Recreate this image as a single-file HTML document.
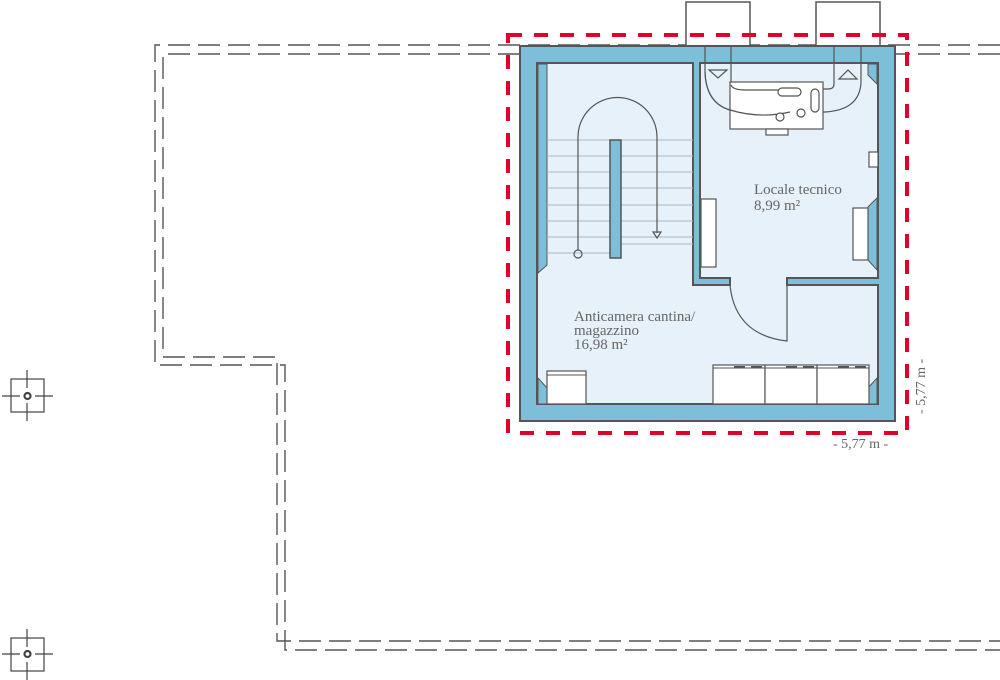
<!DOCTYPE html>
<html><head><meta charset="utf-8"><style>
html,body{margin:0;padding:0;background:#fff;width:1000px;height:680px;overflow:hidden}
svg text{font-family:"Liberation Serif",serif;fill:#666}
</style></head><body>
<svg width="1000" height="680" viewBox="0 0 1000 680" xmlns="http://www.w3.org/2000/svg">
<g fill="none" stroke="#555" stroke-width="1.4" stroke-dasharray="22,8">
<path d="M1000 45 H155 V365 H285 V650 H1000"/>
<path d="M1000 54 H163 V357 H277 V641 H1000"/>
</g>
<g stroke="#444" stroke-width="1.2" fill="none">
<rect x="11" y="379" width="33" height="33"/><path d="M27 370V388M27 403V421M2 396H20M35 396H53"/>
<circle cx="27.5" cy="396" r="3" stroke-width="2.2"/>
<rect x="11" y="638" width="33" height="33"/><path d="M27 629V647M27 662V680M2 654H20M35 654H53"/>
<circle cx="27.5" cy="654" r="3" stroke-width="2.2"/>
</g>
<g fill="#fff" stroke="#555" stroke-width="1.5">
<rect x="686" y="2" width="64" height="45"/><rect x="816" y="2" width="64" height="45"/>
</g>
<rect x="520" y="46" width="375" height="375" fill="#7dbfd8" stroke="#555" stroke-width="2"/>
<path d="M537 63 H693 V285 H730 V278 H700 V63 H878 V278 H787 V285 H878 V404 H537 Z" fill="#e6f1f9" stroke="#555" stroke-width="2"/>
<path d="M538 64 H547 V265 L538 273 Z" fill="#7dbfd8" stroke="#555" stroke-width="1"/>
<path d="M538 404 V378 L547 388 V404 Z" fill="#7dbfd8" stroke="#555" stroke-width="1"/>
<path d="M877 64 H868 V75 L877 84 Z" fill="#7dbfd8" stroke="#555" stroke-width="1"/>
<path d="M877 198 L868 207 V260 L877 270 Z" fill="#7dbfd8" stroke="#555" stroke-width="1"/>
<path d="M877 404 V378 L868 388 V404 Z" fill="#7dbfd8" stroke="#555" stroke-width="1"/>
<g stroke="#aab8c2" stroke-width="1">
<path d="M547 140H693M547 156H693M547 172H693M547 188H693M547 205H693M547 221H693M547 237H693M547 253H610M621 244H693"/>
</g>
<rect x="610" y="140" width="11" height="118" fill="#7dbfd8" stroke="#555" stroke-width="1.5"/>
<path d="M578 250 V137 A39 39 0 0 1 657 137 V233" fill="none" stroke="#555" stroke-width="1.2"/>
<circle cx="578" cy="254" r="4" fill="none" stroke="#555" stroke-width="1.2"/>
<path d="M653 232 H661 L657 238 Z" fill="none" stroke="#555" stroke-width="1.2"/>
<g fill="none" stroke="#555" stroke-width="1.2">
<path d="M705 46 V72 Q706 103 730 110 Q760 119 790 115"/>
<path d="M731 46 V85 Q733 90 745 90 H780"/>
<path d="M834 46 V84 Q834 89 828 89 H823"/>
<path d="M861 46 V82 Q860 110 825 112 H821"/>
<path d="M709 70 H727 L718 78 Z"/><path d="M839 79 H857 L848 70 Z"/>
</g>
<rect x="730" y="82" width="93" height="47" fill="#fff" stroke="#555" stroke-width="1.2"/>
<path d="M731 85 Q733 90 745 90 H780 M705 72 Q706 103 730 110 Q760 119 790 112" fill="none" stroke="#555" stroke-width="1.2"/>
<rect x="766" y="129" width="22" height="6" fill="#fff" stroke="#555" stroke-width="1.2"/>
<rect x="778" y="88" width="23" height="8" rx="4" fill="#fff" stroke="#555" stroke-width="1.2"/>
<rect x="811" y="89" width="8" height="23" rx="4" fill="#fff" stroke="#555" stroke-width="1.2"/>
<circle cx="780" cy="117" r="4" fill="#fff" stroke="#555" stroke-width="1.2"/>
<circle cx="801" cy="113" r="4" fill="#fff" stroke="#555" stroke-width="1.2"/>
<g fill="#fff" stroke="#555" stroke-width="1.2">
<rect x="701" y="199" width="15" height="68"/>
<rect x="853" y="208" width="15" height="52"/>
<rect x="869" y="152" width="9" height="15"/>
<rect x="547" y="371" width="39" height="33"/>
<rect x="713" y="365" width="52" height="39"/><rect x="765" y="365" width="52" height="39"/><rect x="817" y="365" width="52" height="39"/>
</g>
<path d="M547 375 H586 M713 368 H869" stroke="#555" stroke-width="1"/>
<path d="M734 367 H745 M751 367 H762 M786 367 H797 M803 367 H814 M838 367 H849 M855 367 H866" stroke="#555" stroke-width="2"/>
<path d="M730 285 Q735 335 787 341 V285" fill="none" stroke="#555" stroke-width="1.2"/>
<rect x="508" y="35" width="399" height="398" fill="none" stroke="#e0002a" stroke-width="4" stroke-dasharray="14,12"/>
<text x="754" y="194" font-size="15">Locale tecnico</text>
<text x="754" y="210" font-size="15">8,99 m²</text>
<text x="574" y="321" font-size="15">Anticamera cantina/</text>
<text x="574" y="335" font-size="15">magazzino</text>
<text x="574" y="349" font-size="15">16,98 m²</text>
<text x="833" y="448" font-size="14">- 5,77 m -</text>
<text transform="translate(925,414) rotate(-90)" font-size="14">- 5,77 m -</text>
</svg>
</body></html>
